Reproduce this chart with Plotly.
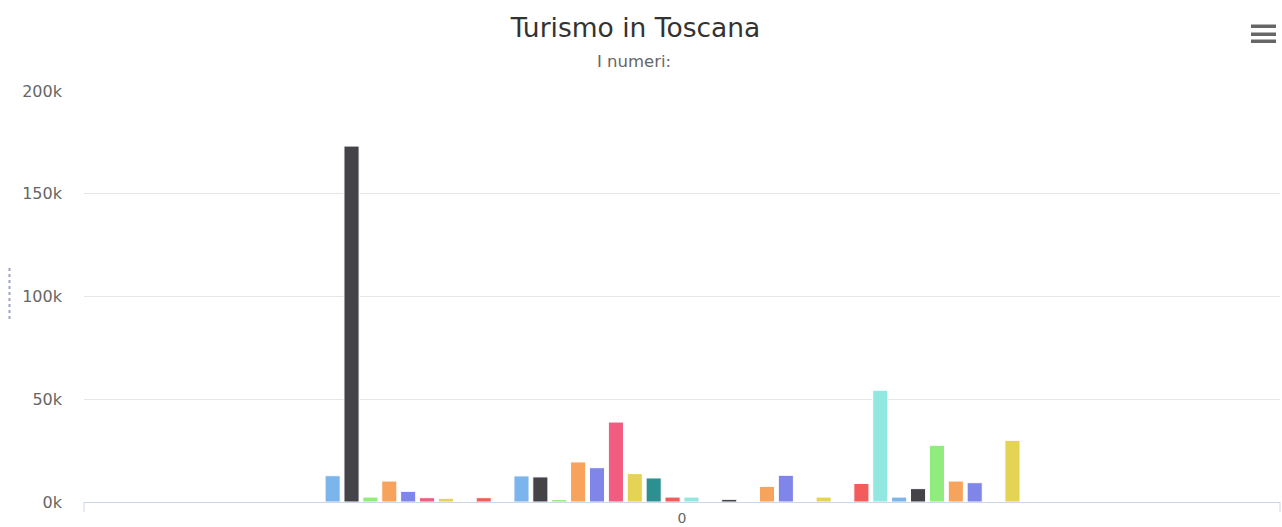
import plotly.graph_objects as go

# ---- data ----
title_text = "Turismo in Toscana"
subtitle_text = "I numeri:"
categories = ["0"]
series_values = [
    12800, 173200, 2400, 10200, 5200, 2100, 1800, 0, 2100, 0,
    12700, 12200, 1200, 19500, 16700, 38900, 13800, 11700, 2400, 2400,
    0, 1300, 0, 7600, 13000, 0, 2400, 0, 9000, 54400,
    2400, 6500, 27600, 10200, 9400, 0, 30000, 0,
]
series_names = ["Serie %d" % (i + 1) for i in range(len(series_values))]
y_tick_vals = [0, 50000, 100000, 150000, 200000]
y_tick_text = ["0k", "50k", "100k", "150k", "200k"]

palette = ["#7cb5ec", "#434348", "#90ed7d", "#f7a35c", "#8085e9",
           "#f15c80", "#e4d354", "#2b908f", "#f45b5b", "#91e8e1"]

W, H = 1282, 527
ML, MR, MT, MB = 84, 2, 91, 25
PW, PH = W - ML - MR, H - MT - MB


def px(x):
    return (x - ML) / PW


def py(y):
    return (H - MB - y) / PH


FONT = "DejaVu Sans"

fig = go.Figure()
for i, (name, v) in enumerate(zip(series_names, series_values)):
    fig.add_trace(go.Bar(
        x=categories, y=[v], name=name,
        marker=dict(color=palette[i % len(palette)],
                    line=dict(color="#ffffff", width=1)),
        showlegend=False,
    ))

shapes = []
# category boundary ticks
for xp in (ML, W - MR):
    shapes.append(dict(type="line", xref="paper", yref="paper",
                       x0=px(xp), x1=px(xp), y0=0, y1=py(H - MB + 10),
                       line=dict(color="#ccd6eb", width=1)))
# hamburger menu icon
for (ya, yb) in [(24.5, 28), (32.5, 36), (39.5, 43)]:
    shapes.append(dict(type="rect", xref="paper", yref="paper",
                       x0=px(1251), x1=px(1276), y0=py(yb), y1=py(ya),
                       fillcolor="#666666", line=dict(width=0)))
# small dashed mark at left
shapes.append(dict(type="line", xref="paper", yref="paper",
                   x0=px(9.5), x1=px(9.5), y0=py(268), y1=py(320),
                   line=dict(color="#9aa6c6", width=2, dash="dot")))

fig.update_layout(
    width=W, height=H,
    margin=dict(l=ML, r=MR, t=MT, b=MB, autoexpand=False),
    paper_bgcolor="#ffffff", plot_bgcolor="#ffffff",
    barmode="group", bargap=0.4, bargroupgap=0.2,
    title=dict(text=title_text, x=635.5 / W, xref="container", xanchor="center",
               y=1 - 28 / H, yref="container", yanchor="middle",
               font=dict(family=FONT, size=26.5, color="#333333")),
    annotations=[dict(text=subtitle_text, xref="paper", yref="paper",
                      x=px(634), y=py(62), xanchor="center", yanchor="middle",
                      showarrow=False,
                      font=dict(family=FONT, size=16.5, color="#666666"))],
    shapes=shapes,
    xaxis=dict(type="category", showline=True, linecolor="#ccd6eb", linewidth=1,
               showgrid=False, ticks="", ticklabelstandoff=3,
               tickfont=dict(family=FONT, size=14, color="#666666"),
               automargin=False, fixedrange=True),
    yaxis=dict(range=[0, 200000], tickvals=y_tick_vals, ticktext=y_tick_text,
               showgrid=True, gridcolor="#e6e6e6", gridwidth=1,
               zeroline=False, showline=False, ticks="",
               ticklabelstandoff=21,
               tickfont=dict(family=FONT, size=16, color="#666666"),
               automargin=False, fixedrange=True),
    showlegend=False,
)

fig.write_html("out.html", config={"displayModeBar": False},
               post_script="document.body.style.margin='0';document.body.style.padding='0';")
